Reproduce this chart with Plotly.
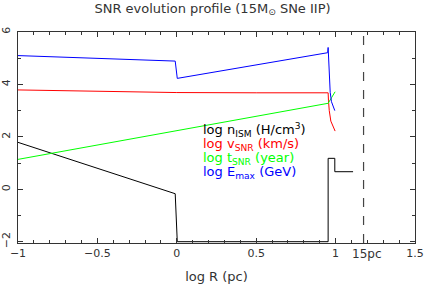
import plotly.graph_objects as go
import math

# nISM
n_x = [-1.0, -0.01, 0.003, 0.953, 0.953, 0.995, 0.995, 1.11]
n_y = [1.79, -0.17, -2.0, -2.0, 1.18, 1.18, 0.67, 0.67]
# vSNR
v_x = [-1.0, -0.5, 0.0, 0.5, 0.953, 0.955, 0.96, 0.97, 0.985, 0.997]
v_y = [3.79, 3.73, 3.69, 3.68, 3.68, 3.4, 3.0, 2.6, 2.35, 2.22]
# tSNR
t_x = [-1.0, 0.0, 0.953, 0.975, 0.997]
t_y = [1.14, 2.25, 3.28, 3.5, 3.72]
# Emax
e_x = [-1.0, -0.01, 0.003, 0.95, 0.953, 0.956, 0.959, 0.966, 0.974, 0.985, 0.995]
e_y = [5.10, 4.89, 4.23, 5.21, 5.41, 5.0, 4.17, 3.7, 3.34, 3.12, 3.0]

x_ticks = [-1, -0.5, 0, 0.5, 1, 1.5]
x_ticklabels = ["\u22121", "\u22120.5", "0", "0.5", "1", "1.5"]
y_ticks = [-2, 0, 2, 4, 6]
y_ticklabels = ["\u22122", "0", "2", "4", "6"]
r_mark = math.log10(15)

FONT = "DejaVu Sans, sans-serif"
TXT = "#333333"

fig = go.Figure()
for xs, ys, c in [(n_x, n_y, "#000000"), (v_x, v_y, "#ff0000"),
                  (t_x, t_y, "#00ff00"), (e_x, e_y, "#0000ff")]:
    fig.add_trace(go.Scatter(x=xs, y=ys, mode="lines",
                             line=dict(color=c, width=1), showlegend=False,
                             hoverinfo="skip"))

fig.add_shape(type="line", x0=r_mark, x1=r_mark, y0=0, y1=1, yref="paper",
              line=dict(color="#444444", width=1.2, dash="dash"))

fig.add_annotation(x=r_mark, y=-0.01, xref="x", yref="paper", text="15pc",
                   xshift=3, showarrow=False, xanchor="center", yanchor="top",
                   font=dict(size=12, color=TXT, family=FONT))

legend = [("log n<sub>ISM</sub> (H/cm<sup>3</sup>)", "#000000", 2.25),
          ("log v<sub>SNR</sub> (km/s)", "#ff0000", 1.71),
          ("log t<sub>SNR</sub> (year)", "#00ff00", 1.17),
          ("log E<sub>max</sub> (GeV)", "#0000ff", 0.64)]
for txt, c, yy in legend:
    fig.add_annotation(x=0.155, y=yy, xref="x", yref="y", text=txt,
                       showarrow=False, xanchor="left", yanchor="middle",
                       font=dict(size=13, color=c, family=FONT))

axis_common = dict(showgrid=False, zeroline=False, showline=True,
                   linecolor="#333333", linewidth=1, mirror="ticks",
                   ticks="inside", ticklen=5, tickcolor="#333333",
                   automargin=False,
                   tickfont=dict(size=11, color=TXT, family=FONT))

fig.update_xaxes(range=[-1, 1.5], tickvals=x_ticks, ticktext=x_ticklabels,
                 minor=dict(dtick=0.1, ticks="inside", ticklen=3, tickcolor="#333333"),
                 title=dict(text="log R (pc)", font=dict(size=13, color=TXT, family=FONT),
                            standoff=13),
                 **axis_common)
fig.update_yaxes(range=[-2.05, 6], tickvals=y_ticks, ticktext=y_ticklabels,
                 tickangle=-90, ticklabelstandoff=3,
                 minor=dict(dtick=1, ticks="inside", ticklen=3, tickcolor="#333333"),
                 **axis_common)

fig.update_layout(
    width=425, height=284,
    margin=dict(l=18, r=10, t=32, b=41),
    plot_bgcolor="white", paper_bgcolor="white",
    hovermode=False,
    title=dict(text="SNR evolution profile (15M<sub>\u2299</sub> SNe IIP)",
               x=0.5, xanchor="center", y=0.972, yanchor="middle",
               font=dict(size=13, color=TXT, family=FONT)),
)

fig.write_html("out.html", config={"displayModeBar": False},
               post_script="document.body.style.margin='0px';")
